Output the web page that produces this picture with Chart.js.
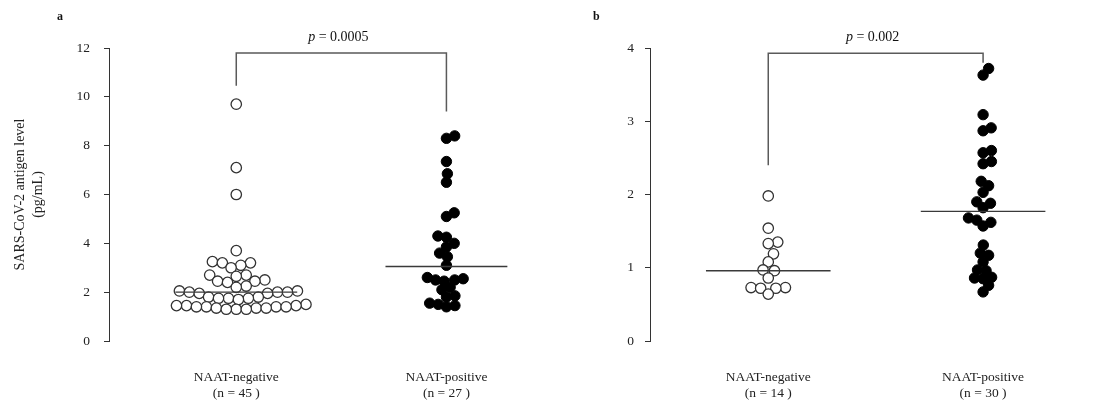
<!DOCTYPE html>
<html><head><meta charset="utf-8">
<script src="https://cdn.jsdelivr.net/npm/chart.js@4/dist/chart.umd.min.js"></script>
<style>
html,body{margin:0;padding:0;background:#fff;}
body{width:1097px;height:410px;position:relative;overflow:hidden;}
.wrap{position:absolute;top:0;height:410px;}
#wa{left:0;width:558px;}
#wb{left:560px;width:537px;}
</style></head><body>
<div class="wrap" id="wa"><canvas id="ca" width="558" height="410"></canvas></div>
<div class="wrap" id="wb"><canvas id="cb" width="537" height="410"></canvas></div>
<script>
// ---- data ----
const categories = ['NAAT-negative', 'NAAT-positive'];
const countsA = ['(n = 45 )', '(n = 27 )'];
const countsB = ['(n = 14 )', '(n = 30 )'];
const yTicksA = [0, 2, 4, 6, 8, 10, 12];
const yTicksB = [0, 1, 2, 3, 4];

const negA = [9.7, 7.1, 6.0, 3.7,
  3.25, 3.2, 3.2, 3.1, 3.0,
  2.7, 2.7, 2.65,
  2.5, 2.45, 2.45, 2.4,
  2.25, 2.2,
  2.05, 2.05, 2.0, 2.0, 2.0, 1.95, 1.95,
  1.8, 1.8, 1.75, 1.75, 1.75, 1.7,
  1.5, 1.45, 1.45, 1.45, 1.4, 1.4, 1.4, 1.4, 1.35, 1.35, 1.35, 1.3, 1.3, 1.3];
const posA = [8.4, 8.3, 7.35, 6.85, 6.5, 5.25, 5.1,
  4.3, 4.25, 4.0, 3.85, 3.6, 3.45,
  3.1,
  2.6, 2.55, 2.5, 2.5, 2.45, 2.2, 2.1, 1.85, 1.8, 1.55, 1.5, 1.45, 1.4];
const negB = [1.98, 1.54, 1.35, 1.33, 1.19, 1.08, 0.97, 0.96, 0.86, 0.73, 0.73, 0.72, 0.72, 0.64];
const posB = [3.72, 3.63, 3.09, 2.91, 2.87, 2.6, 2.57, 2.45, 2.42, 2.18, 2.12, 2.03, 1.9, 1.88, 1.82,
  1.68, 1.65, 1.62, 1.57, 1.31, 1.2, 1.17, 1.08, 0.97, 0.96, 0.87, 0.86, 0.85, 0.76, 0.67];

const medianA = [2.0, 3.05];
const medianB = [0.96, 1.77];
// bracket: [top level, left end, right end]
const bracketA = [11.8, 10.45, 9.4];
const bracketB = [3.93, 2.4, 3.8];
const pTextA = '0.0005';
const pTextB = '0.002';

// ---- drawing ----
const FONT = "'Liberation Serif', 'Times New Roman', serif";

const overlay = {
  id: 'overlay',
  afterDatasetsDraw(chart, args, o) {
    const ctx = chart.ctx, xs = chart.scales.x, ys = chart.scales.y;
    ctx.save();
    ctx.strokeStyle = '#3a3a3a';
    ctx.lineWidth = 1.4;
    o.median.forEach((m, i) => {
      const c = i + 1;
      const y = ys.getPixelForValue(m);
      ctx.beginPath();
      ctx.moveTo(xs.getPixelForValue(c - o.halfW), y);
      ctx.lineTo(xs.getPixelForValue(c + o.halfW), y);
      ctx.stroke();
    });
    const x1 = xs.getPixelForValue(1), x2 = xs.getPixelForValue(2);
    const yt = ys.getPixelForValue(o.bracket[0]);
    ctx.strokeStyle = '#5a5a5a';
    ctx.lineWidth = 1.5;
    ctx.beginPath();
    ctx.moveTo(x1, ys.getPixelForValue(o.bracket[1]));
    ctx.lineTo(x1, yt);
    ctx.lineTo(x2, yt);
    ctx.lineTo(x2, ys.getPixelForValue(o.bracket[2]));
    ctx.stroke();
    ctx.fillStyle = '#111';
    ctx.textBaseline = 'middle';
    ctx.textAlign = 'left';
    const fItal = "italic 14px " + FONT, fNorm = "14px " + FONT;
    ctx.font = fItal; const wp = ctx.measureText('p').width;
    ctx.font = fNorm; const rest = ' = ' + o.p; const wr = ctx.measureText(rest).width;
    const tx = (x1 + x2) / 2 - (wp + wr) / 2 - 3;
    const ty = yt - 16;
    ctx.font = fItal; ctx.fillText('p', tx, ty);
    ctx.font = fNorm; ctx.fillText(rest, tx + wp, ty);
    ctx.font = "bold 12px " + FONT;
    ctx.fillText(o.letter, o.letterX, 17);
    ctx.restore();
  }
};

function makeChart(id, cfg) {
  const tickVals = cfg.yTicks;
  const scalesY = {
    type: 'linear', min: tickVals[0], max: tickVals[tickVals.length - 1],
    afterBuildTicks: s => { s.ticks = tickVals.map(v => ({ value: v })); },
    afterFit: s => { s.width = cfg.yWidth; },
    grid: { drawOnChartArea: false, drawTicks: true, tickLength: 5, color: '#333', lineWidth: 1 },
    border: { display: true, color: '#333', width: 1 },
    ticks: { color: '#222', padding: cfg.yPad, font: { family: FONT, size: 13.5 } },
    title: cfg.yTitle ? {
      display: true, text: cfg.yTitle, color: '#222',
      font: { family: FONT, size: 14, lineHeight: 1.3 }, padding: { top: 11, bottom: 0 }
    } : { display: false }
  };
  const chart = new Chart(document.getElementById(id), {
    type: 'scatter',
    data: {
      datasets: [
        { data: cfg.neg.map(v => ({ x: 1, y: v })), pointRadius: 5.2, pointHoverRadius: 5.2,
          backgroundColor: '#fff', borderColor: '#333', borderWidth: 1.3 },
        { data: cfg.pos.map(v => ({ x: 2, y: v })), pointRadius: 5.2, pointHoverRadius: 5.2,
          backgroundColor: '#000', borderColor: '#000', borderWidth: 1 }
      ]
    },
    options: {
      responsive: false, animation: false, events: [],
      layout: { padding: { top: 48, left: 0, right: 0, bottom: 0 } },
      plugins: {
        legend: { display: false }, tooltip: { enabled: false },
        overlay: { median: cfg.median, bracket: cfg.bracket, p: cfg.p, halfW: 0.29,
          letter: cfg.letter, letterX: cfg.letterX }
      },
      scales: {
        x: {
          type: 'linear', min: cfg.xMin, max: cfg.xMax,
          afterBuildTicks: s => { s.ticks = [{ value: 1 }, { value: 2 }]; },
          afterFit: s => { s.height = 69; },
          grid: { display: false, drawTicks: false },
          border: { display: false },
          ticks: {
            autoSkip: false, maxRotation: 0, padding: 28, color: '#222',
            font: { family: FONT, size: 13.5 },
            callback: v => [categories[v - 1], cfg.counts[v - 1]]
          }
        },
        y: scalesY
      }
    },
    plugins: [overlay]
  });
  // beeswarm offsets computed from the library's pixel scales
  const xs = chart.scales.x, ys = chart.scales.y;
  const unit = xs.getPixelForValue(1) - xs.getPixelForValue(0);
  chart.data.datasets.forEach((ds, di) => {
    const D = cfg.gap[di];
    const center = di + 1;
    const pts = ds.data.map((p, i) => ({ i, py: ys.getPixelForValue(p.y) }));
    pts.sort((a, b) => b.py - a.py);
    const placed = [];
    pts.forEach(p => {
      const cands = [0];
      placed.forEach(q => {
        const dy = Math.abs(q.py - p.py);
        if (dy < D) { const dx = Math.sqrt(D * D - dy * dy); cands.push(q.px + dx, q.px - dx); }
      });
      cands.sort((a, b) => Math.abs(a) - Math.abs(b));
      let best = 0;
      for (const c of cands) {
        if (placed.every(q => (q.px - c) ** 2 + (q.py - p.py) ** 2 >= D * D - 0.01)) { best = c; break; }
      }
      p.px = best; placed.push(p);
    });
    pts.forEach(p => { ds.data[p.i].x = center + p.px / unit; });
  });
  chart.update('none');
  return chart;
}

makeChart('ca', {
  neg: negA, pos: posA, counts: countsA, yTicks: yTicksA, median: medianA,
  bracket: bracketA, p: pTextA, letter: 'a', letterX: 57,
  xMin: 0.3944, xMax: 2.5, yWidth: 109, yPad: 14, gap: [10, 8.6],
  yTitle: ['SARS-CoV-2 antigen level', '(pg/mL)']
});
makeChart('cb', {
  neg: negB, pos: posB, counts: countsB, yTicks: yTicksB, median: medianB,
  bracket: bracketB, p: pTextB, letter: 'b', letterX: 33,
  xMin: 0.4495, xMax: 2.5, yWidth: 90, yPad: 11, gap: [9.6, 8.6], yTitle: null
});
</script>
</body></html>
